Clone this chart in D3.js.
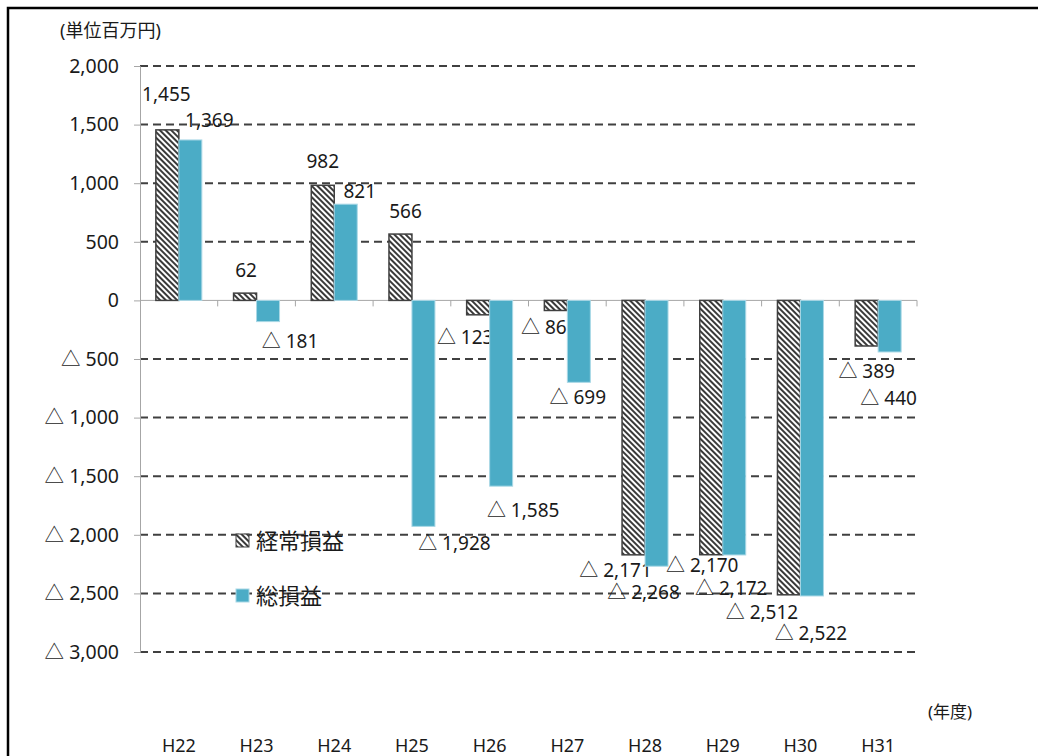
<!DOCTYPE html>
<html>
<head>
<meta charset="utf-8">
<script src="https://cdn.jsdelivr.net/npm/d3@7"></script>
<style>
  body { margin: 0; background: #fff; }
  text { font-family: "Noto Sans", "Noto Sans CJK JP", sans-serif; fill: #1a1a1a; }
</style>
</head>
<body>
<div id="chart"></div>
<script>
// data
let years = ['H22', 'H23', 'H24', 'H25', 'H26', 'H27', 'H28', 'H29', 'H30', 'H31'];
let keijo = [1455, 62, 982, 566, -123, -86, -2171, -2170, -2512, -389];   // 経常損益
let soson = [1369, -181, 821, -1928, -1585, -699, -2268, -2172, -2522, -440]; // 総損益
let yTicks = [2000, 1500, 1000, 500, 0, -500, -1000, -1500, -2000, -2500, -3000];

// label nudges (dx, dy from bar end), as placed in the original sheet
let keijoLabelOff = [[-1,-36],[1,-23],[0,-24],[5,-23],[-13,22],[-12,17],[-18,15],[-9,10],[-27,17],[0,25]];
let sosonLabelOff = [[19,-20],[22,19],[14,-13],[31,17],[22,24],[-1,15],[-13,26],[-3,33],[-1,37],[-1,46]];

let dim = { width: 1038, height: 756 };

let svg = d3.select('#chart').append('svg')
    .attr('width', dim.width)
    .attr('height', dim.height);

// hatch pattern
let defs = svg.append('defs');
defs.append('pattern')
    .attr('id', 'hatch')
    .attr('patternUnits', 'userSpaceOnUse')
    .attr('width', 4).attr('height', 4)
    .attr('patternTransform', 'rotate(-45)')
    .call(p => {
        p.append('rect').attr('width', 4).attr('height', 4).attr('fill', '#fff');
        p.append('rect').attr('width', 2).attr('height', 4).attr('fill', '#3a3a3a');
    });

// frame
svg.append('rect')
    .attr('x', 8).attr('y', 8)
    .attr('width', 1100).attr('height', 800)
    .attr('fill', 'none')
    .attr('stroke', '#000')
    .attr('stroke-width', 2.5);

let scaleX = d3.scaleBand()
    .domain(years)
    .range([140, 917]);

let scaleSub = d3.scaleBand()
    .domain(['keijo', 'soson'])
    .range([0, scaleX.bandwidth()])
    .paddingInner(0)
    .paddingOuter(0.69);

let scaleY = d3.scaleLinear()
    .domain([-3000, 2000])
    .range([652, 66]);

let fmt = d3.format(',');
let label = v => v < 0 ? '\u25B3 ' + fmt(-v) : fmt(v);

// gridlines
svg.append('g')
    .selectAll('line')
    .data(yTicks.filter(d => d !== 0))
    .join('line')
    .attr('x1', 140).attr('x2', 917)
    .attr('y1', d => scaleY(d)).attr('y2', d => scaleY(d))
    .attr('stroke', '#404040')
    .attr('stroke-width', 2)
    .attr('stroke-dasharray', '8,5');

// y axis
let axisY = svg.append('g')
    .attr('transform', 'translate(140,0)')
    .call(d3.axisLeft(scaleY).tickValues(yTicks).tickSize(6).tickPadding(15).tickFormat(label));
axisY.select('.domain').attr('stroke', '#a6a6a6');
axisY.selectAll('.tick line').attr('stroke', '#a6a6a6');
axisY.selectAll('.tick text')
    .attr('font-size', 19.5)
    .attr('font-family', '"Noto Sans", "Noto Sans CJK JP", sans-serif')
    .attr('fill', '#1a1a1a');

// x axis line at zero
let zeroY = scaleY(0);
svg.append('line')
    .attr('x1', 140).attr('x2', 917)
    .attr('y1', zeroY).attr('y2', zeroY)
    .attr('stroke', '#a6a6a6');
svg.append('g')
    .selectAll('line')
    .data(years.map((d, i) => i + 1))
    .join('line')
    .attr('x1', i => 140 + i * scaleX.step()).attr('x2', i => 140 + i * scaleX.step())
    .attr('y1', zeroY).attr('y2', zeroY + 6)
    .attr('stroke', '#a6a6a6');

// category labels (placed low, as in the original)
svg.append('g')
    .selectAll('text')
    .data(years)
    .join('text')
    .attr('x', d => scaleX(d) + scaleX.bandwidth() / 2)
    .attr('y', 745)
    .attr('text-anchor', 'middle')
    .attr('dominant-baseline', 'central')
    .attr('font-size', 18)
    .text(d => d);

// bars
let series = [
    { key: 'keijo', values: keijo, fill: 'url(#hatch)', stroke: '#404040', sw: 1.5, off: keijoLabelOff },
    { key: 'soson', values: soson, fill: '#4bacc6', stroke: '#a9d8e6', sw: 1, off: sosonLabelOff }
];

series.forEach(s => {
    let rows = years.map((y, i) => ({ year: y, value: s.values[i], off: s.off[i] }));
    svg.append('g')
        .selectAll('rect')
        .data(rows)
        .join('rect')
        .attr('x', d => scaleX(d.year) + scaleSub(s.key))
        .attr('width', scaleSub.bandwidth())
        .attr('y', d => Math.min(scaleY(d.value), zeroY))
        .attr('height', d => Math.abs(scaleY(d.value) - zeroY))
        .attr('fill', s.fill)
        .attr('stroke', s.stroke)
        .attr('stroke-width', s.sw);

    svg.append('g')
        .selectAll('text')
        .data(rows)
        .join('text')
        .attr('x', d => scaleX(d.year) + scaleSub(s.key) + scaleSub.bandwidth() / 2 + d.off[0])
        .attr('y', d => scaleY(d.value) + d.off[1])
        .attr('text-anchor', 'middle')
        .attr('dominant-baseline', 'central')
        .attr('font-size', 19)
        .text(d => label(d.value));
});

// titles
svg.append('text')
    .attr('x', 60).attr('y', 30)
    .attr('dominant-baseline', 'central')
    .attr('font-size', 18)
    .text('(単位百万円)');

svg.append('text')
    .attr('x', 928).attr('y', 711)
    .attr('dominant-baseline', 'central')
    .attr('font-size', 17)
    .text('(年度)');

// legend
let legend = svg.append('g');
let legendItems = [
    { name: '経常損益', fill: 'url(#hatch)', stroke: '#404040', y: 540 },
    { name: '総損益', fill: '#4bacc6', stroke: '#a9d8e6', y: 595 }
];
legendItems.forEach(l => {
    legend.append('rect')
        .attr('x', 236).attr('y', l.y - 6)
        .attr('width', 13).attr('height', 13)
        .attr('fill', l.fill)
        .attr('stroke', l.stroke);
    legend.append('text')
        .attr('x', 256).attr('y', l.y)
        .attr('dominant-baseline', 'central')
        .attr('font-size', 22)
        .text(l.name);
});
</script>
</body>
</html>
